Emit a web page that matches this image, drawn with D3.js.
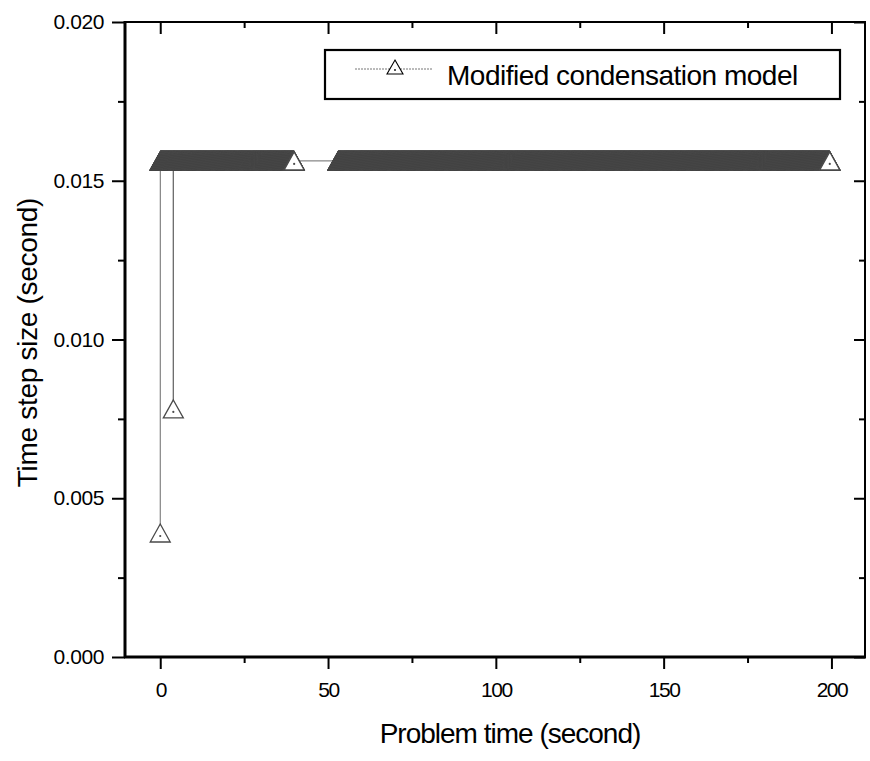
<!DOCTYPE html>
<html>
<head>
<meta charset="utf-8">
<script src="https://cdn.jsdelivr.net/npm/d3@7/dist/d3.min.js"></script>
<style>
  html, body { margin: 0; padding: 0; background: #fff; }
  svg { display: block; font-family: "Liberation Sans", Arial, Helvetica, sans-serif; }
</style>
</head>
<body>
<svg id="chart" width="870" height="761"></svg>
<script>
// Time step size history of the modified condensation model run.
const seriesName = "Modified condensation model";

// Steps where the solver cut the time step (problem time s, step size s).
const reducedSteps = [
  [0.0, 0.00390625],
  [3.9, 0.0078125]
];

// Stretches of problem time run at the full step size (start s, end s).
const fullStepRuns = [
  [0.0, 3.9],
  [3.9, 39.9],
  [53.0, 199.5]
];
const fullStep = 0.015625;

// Axis ticks
const xMajorTicks = [0, 50, 100, 150, 200];
const xMinorTicks = [25, 75, 125, 175];
const yMajorTicks = [0.000, 0.005, 0.010, 0.015, 0.020];
const yMinorTicks = [0.0025, 0.0075, 0.0125, 0.0175];

const xTitle = "Problem time (second)";
const yTitle = "Time step size (second)";

// Build the step-by-step record: each full-step run advances by its own step size.
const points = reducedSteps.map(d => ({ t: d[0], dt: d[1] }));
fullStepRuns.forEach(([a, b]) => {
  const n = Math.round((b - a) / fullStep);
  for (let i = 1; i <= n; i++) points.push({ t: a + i * fullStep, dt: fullStep });
});
// the run after the output gap starts exactly at its first recorded time
points.push({ t: 53.0, dt: fullStep });
points.sort((p, q) => p.t - q.t);

const svg = d3.select("#chart");
const plotL = 125, plotR = 865, plotT = 22, plotB = 657;

const x = d3.scaleLinear().domain([-10.5, 210]).range([plotL, plotR]);
const y = d3.scaleLinear().domain([0, 0.020]).range([plotB, plotT]);

// connecting line
svg.append("path")
  .datum(points)
  .attr("fill", "none")
  .attr("stroke", "#6a6a6a")
  .attr("stroke-width", 1)
  .attr("d", d3.line().x(d => x(d.t)).y(d => y(d.dt)));

// hollow triangle markers centred on each point
const triHalfW = 10, triHalfH = 9;
const markerInk = "#4a4a4a";
const triPath = (cx, cy, hw, hh) =>
  `M${cx},${cy - hh}L${cx + hw},${cy + hh}L${cx - hw},${cy + hh}Z`;

const markers = svg.append("g");
points.forEach(p => {
  const cx = x(p.t), cy = y(p.dt);
  markers.append("path")
    .attr("d", triPath(cx, cy, triHalfW, triHalfH))
    .attr("fill", "#fff")
    .attr("stroke", markerInk)
    .attr("stroke-width", 1.3);
  markers.append("circle")
    .attr("cx", cx).attr("cy", cy + 3).attr("r", 1.1)
    .attr("fill", markerInk);
});

// frame
svg.append("rect")
  .attr("x", plotL).attr("y", plotT)
  .attr("width", plotR - plotL).attr("height", plotB - plotT)
  .attr("fill", "none").attr("stroke", "#000").attr("stroke-width", 2);
svg.append("line").attr("x1", plotL).attr("x2", plotL).attr("y1", plotT - 1).attr("y2", plotB + 1)
  .attr("stroke", "#000").attr("stroke-width", 3);
svg.append("line").attr("x1", plotL - 1).attr("x2", plotR + 1).attr("y1", plotB).attr("y2", plotB)
  .attr("stroke", "#000").attr("stroke-width", 3);

function styleAxis(g) {
  g.select(".domain").remove();
  g.selectAll(".tick line").attr("stroke", "#000").attr("stroke-width", 2);
  g.selectAll(".tick text").attr("fill", "#000");
}

// bottom axis (ticks outward)
svg.append("g").attr("transform", `translate(0,${plotB})`)
  .call(d3.axisBottom(x).tickValues(xMajorTicks).tickSize(12).tickPadding(13).tickFormat(d3.format("d")))
  .call(styleAxis)
  .call(g => g.selectAll("text").attr("font-size", 21).attr("letter-spacing", "-1.5px")
    .attr("font-family", "'Liberation Sans', Arial, sans-serif"));
svg.append("g").attr("transform", `translate(0,${plotB})`)
  .call(d3.axisBottom(x).tickValues(xMinorTicks).tickSize(6).tickFormat(""))
  .call(styleAxis);

// top axis (ticks inward)
svg.append("g").attr("transform", `translate(0,${plotT})`)
  .call(d3.axisBottom(x).tickValues(xMajorTicks).tickSize(12).tickFormat(""))
  .call(styleAxis);
svg.append("g").attr("transform", `translate(0,${plotT})`)
  .call(d3.axisBottom(x).tickValues(xMinorTicks).tickSize(6).tickFormat(""))
  .call(styleAxis);

// left axis (ticks outward)
svg.append("g").attr("transform", `translate(${plotL},0)`)
  .call(d3.axisLeft(y).tickValues(yMajorTicks).tickSize(13).tickPadding(8).tickFormat(d3.format(".3f")))
  .call(styleAxis)
  .call(g => g.selectAll("text").attr("font-size", 21).attr("letter-spacing", "-0.4px")
    .attr("font-family", "'Liberation Sans', Arial, sans-serif"));
svg.append("g").attr("transform", `translate(${plotL},0)`)
  .call(d3.axisLeft(y).tickValues(yMinorTicks).tickSize(7).tickFormat(""))
  .call(styleAxis);

// right axis (ticks inward)
svg.append("g").attr("transform", `translate(${plotR},0)`)
  .call(d3.axisLeft(y).tickValues(yMajorTicks).tickSize(11).tickFormat(""))
  .call(styleAxis);
svg.append("g").attr("transform", `translate(${plotR},0)`)
  .call(d3.axisLeft(y).tickValues(yMinorTicks).tickSize(6).tickFormat(""))
  .call(styleAxis);

// axis titles
svg.append("text")
  .attr("x", 510).attr("y", 743)
  .attr("text-anchor", "middle")
  .attr("font-size", 28).attr("letter-spacing", "-1px")
  .text(xTitle);
svg.append("text")
  .attr("transform", `translate(37,${(plotT + plotB) / 2 + 3}) rotate(-90)`)
  .attr("text-anchor", "middle")
  .attr("font-size", 28).attr("letter-spacing", "-0.3px")
  .text(yTitle);

// legend
const legend = svg.append("g");
legend.append("rect")
  .attr("x", 325).attr("y", 50).attr("width", 515).attr("height", 49)
  .attr("fill", "#fff").attr("stroke", "#000").attr("stroke-width", 2.2);
legend.append("line")
  .attr("x1", 355).attr("x2", 433).attr("y1", 69).attr("y2", 69)
  .attr("stroke", "#777").attr("stroke-width", 1).attr("stroke-dasharray", "2,1");
legend.append("path")
  .attr("d", triPath(395, 67, 8, 7))
  .attr("fill", "#fff").attr("stroke", "#000").attr("stroke-width", 1.1);
legend.append("circle").attr("cx", 395).attr("cy", 70).attr("r", 0.9).attr("fill", "#000");
legend.append("text")
  .attr("x", 447).attr("y", 85)
  .attr("font-size", 28).attr("letter-spacing", "-0.5px")
  .text(seriesName);
</script>
</body>
</html>
